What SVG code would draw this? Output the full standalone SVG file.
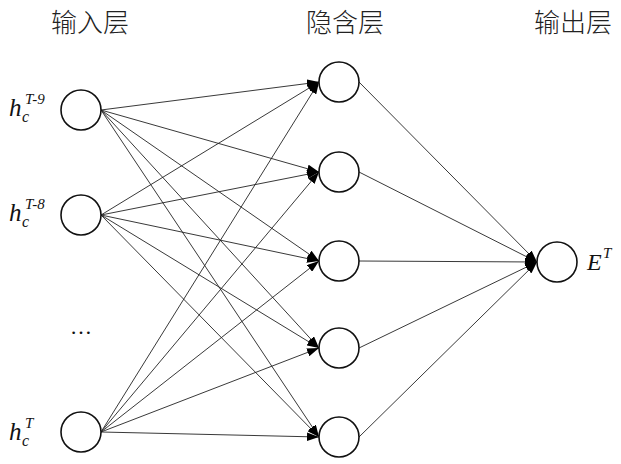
<svg xmlns="http://www.w3.org/2000/svg" width="621" height="464" viewBox="0 0 621 464">
<defs>
<style>
.node{fill:#fff;stroke:#111;stroke-width:1.6}
.edge{stroke:#222;stroke-width:0.9;fill:none;marker-end:url(#arr)}
.hdr{font-family:"Noto Sans CJK SC",sans-serif;font-size:26px;font-weight:300;fill:#222;text-anchor:middle}
.math{font-family:"Liberation Serif",serif;font-style:italic;fill:#111}
</style>
<marker id="arr" viewBox="0 0 10 7" refX="10" refY="3.5" markerWidth="12" markerHeight="8.5" markerUnits="userSpaceOnUse" orient="auto">
<path d="M0,0 L10,3.5 L0,7 z" fill="#000"/>
</marker>
</defs>
<rect width="621" height="464" fill="#fff"/>
<g id="headers">
<text class="hdr" x="90" y="32">输入层</text>
<text class="hdr" x="345" y="32">隐含层</text>
<text class="hdr" x="573" y="32">输出层</text>
</g>
<g id="connectors">
<line class="edge" x1="101" y1="110" x2="319" y2="82"/>
<line class="edge" x1="101" y1="110" x2="319" y2="172"/>
<line class="edge" x1="101" y1="110" x2="319" y2="261"/>
<line class="edge" x1="101" y1="110" x2="319" y2="348"/>
<line class="edge" x1="101" y1="110" x2="319" y2="437"/>
<line class="edge" x1="101" y1="215" x2="319" y2="82"/>
<line class="edge" x1="101" y1="215" x2="319" y2="172"/>
<line class="edge" x1="101" y1="215" x2="319" y2="261"/>
<line class="edge" x1="101" y1="215" x2="319" y2="348"/>
<line class="edge" x1="101" y1="215" x2="319" y2="437"/>
<line class="edge" x1="101" y1="432" x2="319" y2="82"/>
<line class="edge" x1="101" y1="432" x2="319" y2="172"/>
<line class="edge" x1="101" y1="432" x2="319" y2="261"/>
<line class="edge" x1="101" y1="432" x2="319" y2="348"/>
<line class="edge" x1="101" y1="432" x2="319" y2="437"/>
<line class="edge" x1="359" y1="82" x2="537" y2="262"/>
<line class="edge" x1="359" y1="172" x2="537" y2="262"/>
<line class="edge" x1="359" y1="261" x2="537" y2="262"/>
<line class="edge" x1="359" y1="348" x2="537" y2="262"/>
<line class="edge" x1="359" y1="437" x2="537" y2="262"/>
</g>
<g id="in1">
<circle class="node" cx="81" cy="110" r="20"/>
<text class="math" x="9" y="116" font-size="25">h</text>
<text class="math" x="22" y="122" font-size="16">c</text>
<text class="math" x="25" y="104" font-size="15">T-9</text>
</g>
<g id="in2">
<circle class="node" cx="81" cy="215" r="20"/>
<text class="math" x="9" y="221" font-size="25">h</text>
<text class="math" x="22" y="227" font-size="16">c</text>
<text class="math" x="25" y="209" font-size="15">T-8</text>
</g>
<g id="dots">
<text x="81" y="334" font-family="Liberation Serif,serif" font-size="22" fill="#111" text-anchor="middle">…</text>
</g>
<g id="in3">
<circle class="node" cx="81" cy="432" r="20"/>
<text class="math" x="9" y="440" font-size="25">h</text>
<text class="math" x="22" y="446" font-size="16">c</text>
<text class="math" x="25" y="428" font-size="15">T</text>
</g>
<g id="h1"><circle class="node" cx="339" cy="82" r="20"/></g>
<g id="h2"><circle class="node" cx="339" cy="172" r="20"/></g>
<g id="h3"><circle class="node" cx="339" cy="261" r="20"/></g>
<g id="h4"><circle class="node" cx="339" cy="348" r="20"/></g>
<g id="h5"><circle class="node" cx="339" cy="437" r="20"/></g>
<g id="out">
<circle class="node" cx="557" cy="262" r="20"/>
<text class="math" x="587" y="270" font-size="24">E</text>
<text class="math" x="603" y="258" font-size="15">T</text>
</g>
</svg>
